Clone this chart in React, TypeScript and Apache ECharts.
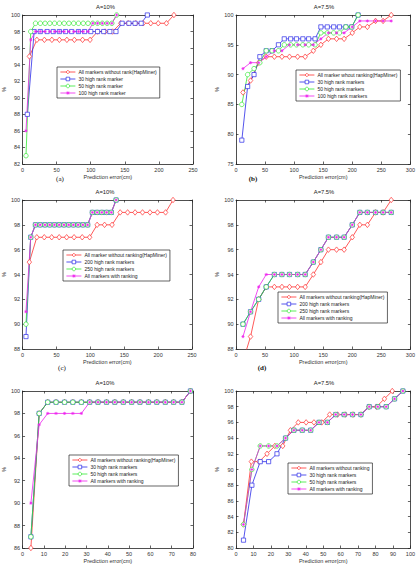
import React, { useEffect, useRef } from "react";
import * as echarts from "echarts";

// ---------- data ----------
// (a) A=10%
const aRedX = [10, 21, 32, 43, 54, 65, 76, 88, 99, 110, 121, 132, 144, 155, 166, 177, 188, 199, 211, 222];
const aRedY = [95, 97, 97, 97, 97, 97, 97, 97, 97, 98, 98, 98, 99, 99, 99, 99, 99, 99, 99, 100];
const aBlueX = [7, 17, 26, 36, 45, 54, 63, 72, 82, 91, 100, 110, 119, 128, 137, 146, 156, 165, 174, 183];
const aBlueY = [88, 98, 98, 98, 98, 98, 98, 98, 98, 98, 98, 98, 98, 98, 98, 99, 99, 99, 99, 100];
const aGreenX = [5, 12, 19, 26, 33, 40, 47, 54, 61, 68, 75, 82, 89, 96, 103, 110, 117, 124, 131, 138];
const aGreenY = [83, 98, 99, 99, 99, 99, 99, 99, 99, 99, 99, 99, 99, 99, 99, 99, 99, 99, 99, 100];
const aMagX = [5, 12, 19, 26, 33, 40, 47, 54, 61, 68, 75, 82, 89, 96, 103, 110, 117, 124, 131, 138];
const aMagY = [86, 97, 98, 98, 98, 98, 98, 98, 98, 98, 98, 98, 98, 98, 99, 99, 99, 99, 99, 100];

// (b) A=7.5%
const bRedX = [12, 25, 39, 52, 66, 79, 92, 106, 119, 133, 146, 159, 173, 186, 200, 213, 226, 240, 253, 267];
const bRedY = [87, 89, 92, 93, 93, 93, 93, 93, 93, 94, 95, 96, 96, 96, 97, 98, 98, 99, 99, 100];
const bBlueX = [10, 20, 31, 41, 52, 62, 73, 83, 94, 104, 115, 125, 136, 146, 157, 168, 178, 189, 199, 210];
const bBlueY = [79, 88, 90, 93, 94, 94, 95, 96, 96, 96, 96, 96, 96, 98, 98, 98, 98, 98, 98, 100];
const bGreenX = [10, 20, 31, 41, 52, 62, 73, 83, 94, 104, 115, 125, 136, 146, 157, 168, 178, 189, 199, 210];
const bGreenY = [85, 90, 91, 92, 94, 94, 94, 95, 95, 95, 95, 95, 95, 97, 97, 97, 97, 98, 98, 100];
const bMagX = [12, 25, 39, 52, 66, 79, 92, 106, 119, 133, 146, 159, 173, 186, 200, 213, 226, 240, 253, 267];
const bMagY = [91, 92, 92, 93, 94, 94, 95, 95, 95, 95, 96, 97, 97, 97, 98, 99, 99, 99, 99, 99];

// (c) A=10%
const cRedX = [10, 21, 32, 43, 54, 65, 76, 88, 99, 110, 121, 132, 144, 155, 166, 177, 188, 199, 211, 222];
const cRedY = [95, 97, 97, 97, 97, 97, 97, 97, 97, 98, 98, 98, 99, 99, 99, 99, 99, 99, 99, 100];
const cRankX = [5, 12, 19, 26, 33, 40, 47, 54, 61, 68, 75, 82, 89, 96, 103, 110, 117, 124, 131, 138];
const cBlueY = [89, 97, 98, 98, 98, 98, 98, 98, 98, 98, 98, 98, 98, 98, 99, 99, 99, 99, 99, 100];
const cGreenY = [90, 97, 98, 98, 98, 98, 98, 98, 98, 98, 98, 98, 98, 98, 99, 99, 99, 99, 99, 100];
const cMagY = [91, 97, 98, 98, 98, 98, 98, 98, 98, 98, 98, 98, 98, 98, 99, 99, 99, 99, 99, 100];

// (d) A=7.5%
const dX = [12, 25, 39, 52, 66, 79, 92, 106, 119, 133, 146, 159, 173, 186, 200, 213, 226, 240, 253, 267];
const dRedY = [87, 89, 92, 93, 93, 93, 93, 93, 93, 94, 95, 96, 96, 96, 97, 98, 98, 99, 99, 100];
const dBlueY = [90, 91, 92, 93, 94, 94, 94, 94, 94, 95, 96, 97, 97, 97, 98, 99, 99, 99, 99, 99];
const dGreenY = [90, 91, 92, 93, 94, 94, 94, 94, 94, 95, 96, 97, 97, 97, 98, 99, 99, 99, 99, 99];
const dMagY = [89, 91, 93, 94, 94, 94, 94, 94, 94, 95, 96, 97, 97, 97, 98, 99, 99, 99, 99, 99];

// (e) A=10%
const eX = [3.9, 7.8, 11.8, 15.7, 19.7, 23.6, 27.6, 31.5, 35.4, 39.4, 43.3, 47.3, 51.2, 55.1, 59.1, 63, 67, 70.9, 74.8, 78.8];
const eRedY = [86, 98, 99, 99, 99, 99, 99, 99, 99, 99, 99, 99, 99, 99, 99, 99, 99, 99, 99, 100];
const eBlueY = [87, 98, 99, 99, 99, 99, 99, 99, 99, 99, 99, 99, 99, 99, 99, 99, 99, 99, 99, 100];
const eGreenY = [87, 98, 99, 99, 99, 99, 99, 99, 99, 99, 99, 99, 99, 99, 99, 99, 99, 99, 99, 100];
const eMagY = [90, 97, 98, 98, 98, 98, 98, 99, 99, 99, 99, 99, 99, 99, 99, 99, 99, 99, 99, 100];

// (f) A=7.5%
const fRedX = [4.3, 8.8, 13.3, 17.8, 22.3, 26.8, 31.2, 35.7, 40.2, 44.7, 49.2, 53.7, 58.2, 62.7, 67.2, 71.7, 76.2, 80.6, 85.1, 89.6];
const fRedY = [83, 91, 91, 92, 93, 93, 95, 96, 96, 96, 96, 97, 97, 97, 97, 97, 98, 98, 99, 100];
const fRankX = [4.3, 9.1, 13.9, 18.7, 23.5, 28.4, 33.2, 38, 42.8, 47.6, 52.4, 57.2, 62, 66.8, 71.6, 76.4, 81.3, 86.1, 90.9, 95.7];
const fBlueY = [81, 88, 91, 91, 92, 94, 95, 95, 95, 96, 96, 97, 97, 97, 97, 98, 98, 98, 99, 100];
const fGreenY = [83, 90, 93, 93, 93, 94, 95, 95, 95, 96, 96, 97, 97, 97, 97, 98, 98, 98, 99, 100];
const fMagY = [83, 90, 93, 93, 93, 94, 95, 95, 95, 96, 96, 97, 97, 97, 97, 98, 98, 98, 99, 100];

// ---------- style ----------
const FONT = "'Liberation Sans', Arial, sans-serif";
const SERIF = "'Liberation Serif', 'Times New Roman', serif";
const AX = "#222";
const RED = "#ff3030";
const BLUE = "#2a2ae8";
const GREEN = "#33e833";
const MAG = "#ee22ee";
const STAR = "path://M5 0L5 10M0 5L10 5M1.6 1.6L8.4 8.4M1.6 8.4L8.4 1.6";

type Kind = "red" | "blue" | "green" | "mag";
type S = { name: string; x: number[]; y: number[]; kind: Kind };
type Panel = {
  left: number; top: number; width: number; height: number;
  xMax: number; xInt: number; yMin: number; yMax: number; yInt: number;
  title: string; tag: string; tagX: number; tagY: number; tagBold: boolean;
  legLeft: number; legTop: number;
  series: S[];
};

const panels: Panel[] = [
  {
    left: 18, top: 15, width: 175, height: 149, xMax: 250, xInt: 50, yMin: 82, yMax: 100, yInt: 2,
    title: "A=10%", tag: "(a)", tagX: 60, tagY: 179, tagBold: false, legLeft: 57, legTop: 67,
    series: [
      { name: "All markers without rank(HapMiner)", x: aRedX, y: aRedY, kind: "red" },
      { name: "30 high rank marker", x: aBlueX, y: aBlueY, kind: "blue" },
      { name: "50 high rank marker", x: aGreenX, y: aGreenY, kind: "green" },
      { name: "100 high rank marker", x: aMagX, y: aMagY, kind: "mag" },
    ],
  },
  {
    left: 236, top: 15, width: 176, height: 149, xMax: 300, xInt: 50, yMin: 75, yMax: 100, yInt: 5,
    title: "A=7.5%", tag: "(b)", tagX: 253, tagY: 179, tagBold: true, legLeft: 296, legTop: 70,
    series: [
      { name: "All marker whout ranking(HapMiner)", x: bRedX, y: bRedY, kind: "red" },
      { name: "30 high rank markers", x: bBlueX, y: bBlueY, kind: "blue" },
      { name: "50 high rank markers", x: bGreenX, y: bGreenY, kind: "green" },
      { name: "100 high rank markers", x: bMagX, y: bMagY, kind: "mag" },
    ],
  },
  {
    left: 18, top: 200, width: 174, height: 149, xMax: 250, xInt: 50, yMin: 88, yMax: 100, yInt: 2,
    title: "A=10%", tag: "(c)", tagX: 62, tagY: 368, tagBold: false, legLeft: 63, legTop: 250,
    series: [
      { name: "All marker without ranking(HapMiner)", x: cRedX, y: cRedY, kind: "red" },
      { name: "200 high rank markers", x: cRankX, y: cBlueY, kind: "blue" },
      { name: "250 high rank markers", x: cRankX, y: cGreenY, kind: "green" },
      { name: "All markers with ranking", x: cRankX, y: cMagY, kind: "mag" },
    ],
  },
  {
    left: 236, top: 200, width: 176, height: 149, xMax: 300, xInt: 50, yMin: 88, yMax: 100, yInt: 2,
    title: "A=7.5%", tag: "(d)", tagX: 262, tagY: 368, tagBold: true, legLeft: 278, legTop: 292,
    series: [
      { name: "All markers without ranking(HapMiner)", x: dX, y: dRedY, kind: "red" },
      { name: "200 high rank markers", x: dX, y: dBlueY, kind: "blue" },
      { name: "250 high rank markers", x: dX, y: dGreenY, kind: "green" },
      { name: "All markers with ranking", x: dX, y: dMagY, kind: "mag" },
    ],
  },
  {
    left: 17, top: 391, width: 176, height: 157, xMax: 80, xInt: 10, yMin: 86, yMax: 100, yInt: 2,
    title: "A=10%", tag: "", tagX: 0, tagY: 0, tagBold: false, legLeft: 69, legTop: 455,
    series: [
      { name: "All markers without ranking(HapMiner)", x: eX, y: eRedY, kind: "red" },
      { name: "30 high rank markers", x: eX, y: eBlueY, kind: "blue" },
      { name: "50 high rank markers", x: eX, y: eGreenY, kind: "green" },
      { name: "All markers with ranking", x: eX, y: eMagY, kind: "mag" },
    ],
  },
  {
    left: 236, top: 391, width: 176, height: 157, xMax: 100, xInt: 10, yMin: 80, yMax: 100, yInt: 2,
    title: "A=7.5%", tag: "", tagX: 0, tagY: 0, tagBold: false, legLeft: 288, legTop: 463,
    series: [
      { name: "All markers without ranking", x: fRedX, y: fRedY, kind: "red" },
      { name: "30 high rank markers", x: fRankX, y: fBlueY, kind: "blue" },
      { name: "50 high rank markers", x: fRankX, y: fGreenY, kind: "green" },
      { name: "All markers with ranking", x: fRankX, y: fMagY, kind: "mag" },
    ],
  },
];

function seriesStyle(kind: Kind) {
  if (kind === "red") return { color: RED, symbol: "diamond", symbolSize: [4.5, 5.5], fill: "#fff" };
  if (kind === "blue") return { color: BLUE, symbol: "rect", symbolSize: 4.2, fill: "#fff" };
  if (kind === "green") return { color: GREEN, symbol: "circle", symbolSize: 4.5, fill: "#fff" };
  return { color: MAG, symbol: STAR, symbolSize: 3.2, fill: MAG };
}

function buildOption() {
  const grid: any[] = [];
  const xAxis: any[] = [];
  const yAxis: any[] = [];
  const series: any[] = [];
  const legend: any[] = [];
  const graphic: any[] = [];
  const lineStyle = { color: AX, width: 0.8 };
  const tick = { inside: true, length: 2.5, lineStyle: { color: AX, width: 0.7 } };

  panels.forEach((p, i) => {
    grid.push({ left: p.left, top: p.top, width: p.width, height: p.height, show: false });
    const xi = xAxis.length;
    xAxis.push({
      type: "value", gridIndex: i, min: 0, max: p.xMax, interval: p.xInt, position: "bottom",
      axisLine: { show: true, onZero: false, lineStyle }, axisTick: tick,
      axisLabel: { fontSize: 5.5, margin: 2.5, color: "#333", fontFamily: FONT },
      splitLine: { show: false },
      name: "Prediction error(cm)", nameLocation: "middle", nameGap: 9.5,
      nameTextStyle: { fontSize: 5.5, color: "#333", fontFamily: FONT },
    });
    xAxis.push({
      type: "value", gridIndex: i, min: 0, max: p.xMax, interval: p.xInt, position: "top",
      axisLine: { show: true, onZero: false, lineStyle }, axisTick: tick,
      axisLabel: { show: false }, splitLine: { show: false },
    });
    const yi = yAxis.length;
    yAxis.push({
      type: "value", gridIndex: i, min: p.yMin, max: p.yMax, interval: p.yInt, position: "left",
      axisLine: { show: true, onZero: false, lineStyle }, axisTick: tick,
      axisLabel: { fontSize: 5.5, margin: 2.5, color: "#333", fontFamily: FONT },
      splitLine: { show: false },
      name: "%", nameLocation: "middle", nameGap: 13,
      nameTextStyle: { fontSize: 5.5, color: "#333", fontFamily: FONT },
    });
    yAxis.push({
      type: "value", gridIndex: i, min: p.yMin, max: p.yMax, interval: p.yInt, position: "right",
      axisLine: { show: true, onZero: false, lineStyle }, axisTick: tick,
      axisLabel: { show: false }, splitLine: { show: false },
    });

    p.series.forEach((s) => {
      const st = seriesStyle(s.kind);
      series.push({
        type: "line", name: s.name, xAxisIndex: xi, yAxisIndex: yi,
        data: s.x.map((v, j) => [v, s.y[j]]),
        symbol: st.symbol, symbolSize: st.symbolSize, showSymbol: true,
        lineStyle: { color: st.color, width: 0.8 },
        itemStyle: { color: st.fill, borderColor: st.color, borderWidth: 0.7 },
        emphasis: { disabled: true },
      });
    });

    legend.push({
      data: p.series.map((s) => s.name), orient: "vertical", left: p.legLeft, top: p.legTop,
      itemWidth: 15, itemHeight: 4.5, itemGap: 2, padding: [2.5, 3],
      backgroundColor: "#fff", borderColor: "#222", borderWidth: 0.7,
      lineStyle: { width: 0.8 },
      itemStyle: { borderWidth: 0.7 },
      textStyle: { fontSize: 5, color: "#222", fontFamily: FONT, padding: [0, 0, 0, -2] },
      selectedMode: false,
    });

    graphic.push({
      type: "text", x: p.left + p.width / 2, y: p.top - 8, silent: true,
      style: { text: p.title, fontSize: 5.8, fill: "#222", fontFamily: FONT, align: "center", verticalAlign: "middle" },
    });
    if (p.tag) {
      graphic.push({
        type: "text", x: p.tagX, y: p.tagY, silent: true,
        style: {
          text: p.tag, fontSize: 7, fill: "#111", fontFamily: SERIF,
          fontWeight: p.tagBold ? "bold" : "normal", align: "center", verticalAlign: "middle",
        },
      });
    }
  });

  return {
    animation: false, backgroundColor: "#fff",
    grid, xAxis, yAxis, series, legend, graphic,
  };
}

export default function App() {
  const ref = useRef<HTMLDivElement>(null);
  useEffect(() => {
    if (!ref.current) return;
    const chart = echarts.init(ref.current, undefined, { renderer: "svg" });
    chart.setOption(buildOption() as any);
    return () => chart.dispose();
  }, []);
  return (
    <div
      ref={ref}
      style={{ position: "fixed", left: 0, top: 0, width: 418, height: 565, background: "#fff" }}
    />
  );
}
